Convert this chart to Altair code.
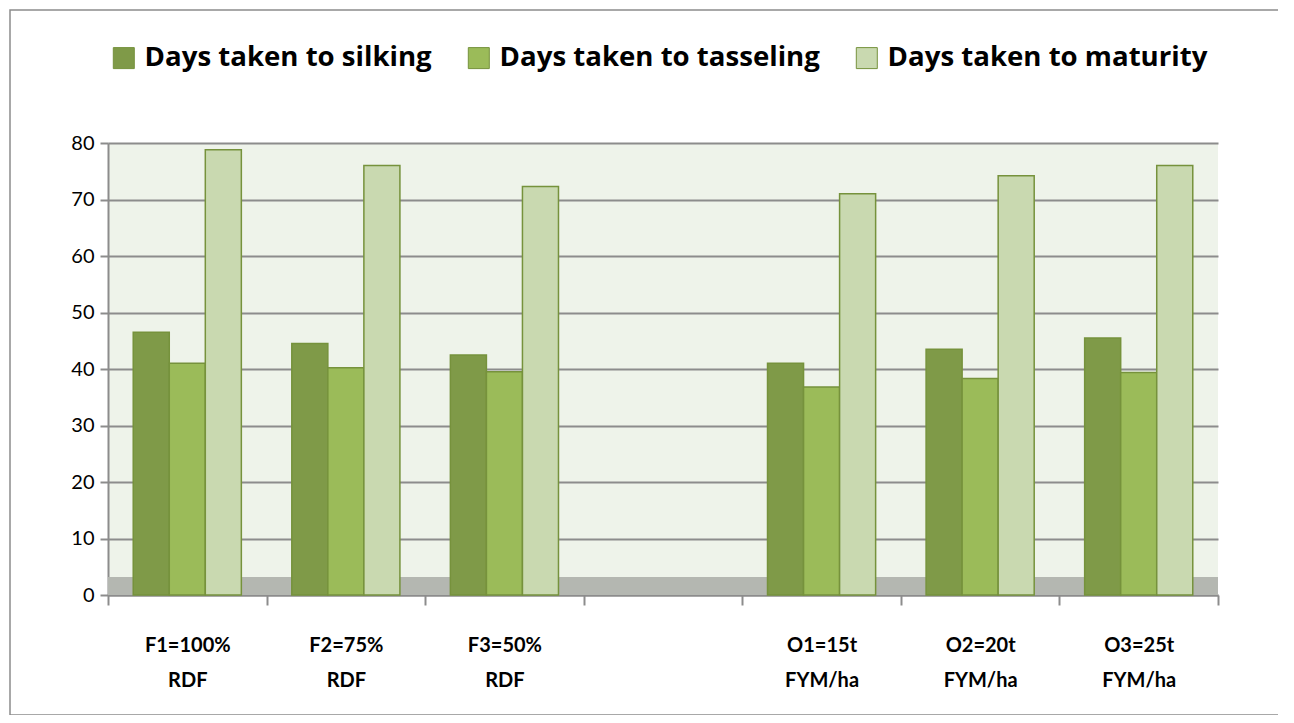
import altair as alt
import pandas as pd

categories = ["F1=100%|RDF", "F2=75%|RDF", "F3=50%|RDF", " ", "O1=15t|FYM/ha", "O2=20t|FYM/ha", "O3=25t|FYM/ha"]
plot_cats = ["F1=100%|RDF", "F2=75%|RDF", "F3=50%|RDF", "O1=15t|FYM/ha", "O2=20t|FYM/ha", "O3=25t|FYM/ha"]
series = ["Days taken to silking", "Days taken to tasseling", "Days taken to maturity"]
silking = [46.5, 44.5, 42.5, 41.0, 43.5, 45.5]
tasseling = [41.0, 40.2, 39.5, 36.8, 38.3, 39.4]
maturity = [78.8, 76.0, 72.3, 71.0, 74.2, 76.0]
colors = ["#7F9A48", "#9BBB59", "#C9D9B0"]

rows = []
for i, c in enumerate(plot_cats):
    for s, vals in zip(series, [silking, tasseling, maturity]):
        rows.append({"cat": c, "series": s, "value": vals[i]})
df = pd.DataFrame(rows)

FONT = "Lato"
LFONT = "Open Sans"
W, H = 1110, 452

base = alt.Chart(df)

floor = alt.Chart(pd.DataFrame({"a": [0]})).mark_rect(color="#B4B7B1").encode(
    x=alt.value(0), x2=alt.value(W), y=alt.value(H - 18), y2=alt.value(H)
)

bars = base.mark_bar(stroke="#76923C", strokeWidth=1.5).encode(
    x=alt.X("cat:N", scale=alt.Scale(domain=categories, paddingInner=0, paddingOuter=0),
            sort=categories,
            axis=alt.Axis(title=None, labelExpr="split(datum.label, '|')", labelAngle=0,
                          labelFont=FONT, labelFontSize=20, labelFontWeight="bold", labelColor="#000000",
                          labelPadding=30, labelLineHeight=35, tickBand="extent", tickSize=10,
                          tickColor="#8C8C8C", tickWidth=2, domainColor="#8C8C8C", domainWidth=2,
                          grid=False)),
    xOffset=alt.XOffset("series:N", sort=series, scale=alt.Scale(domain=series, paddingOuter=0.7, paddingInner=0)),
    y=alt.Y("value:Q", scale=alt.Scale(domain=[0, 80], nice=False),
            axis=alt.Axis(title=None, values=list(range(0, 81, 10)), labelFont=FONT, labelFontSize=20,
                          labelColor="#000000", tickSize=8, tickColor="#8C8C8C", tickWidth=2,
                          domainColor="#8C8C8C", domainWidth=2, gridColor="#8C8C8C", gridWidth=2,
                          labelPadding=6)),
    color=alt.Color("series:N", sort=series, scale=alt.Scale(domain=series, range=colors),
                    legend=alt.Legend(title=None, orient="none", legendX=2, legendY=-99,
                                      direction="horizontal", symbolType="square", symbolSize=441,
                                      symbolStrokeColor="#76923C", symbolStrokeWidth=1,
                                      labelFont=LFONT, labelFontSize=27.6, labelFontWeight="bold",
                                      labelColor="#000000", labelLimit=600, columnPadding=33,
                                      symbolOffset=0, labelOffset=7)),
)

border = alt.Chart(pd.DataFrame({"a": [0]})).mark_rect(fill=None, stroke="#8C8C8C", strokeWidth=1.5).encode(
    x=alt.value(-98), x2=alt.value(1177), y=alt.value(-133), y2=alt.value(572)
)

chart = alt.layer(floor, bars, border).properties(
    width=W, height=H,
    autosize=alt.AutoSizeParams(type="none"),
    padding={"left": 100, "top": 135, "right": 60, "bottom": 120},
    background="#FFFFFF",
).configure_view(fill="#EEF3EA", stroke=None)

chart.save("out.html", embed_options={"renderer": "svg", "actions": False})
